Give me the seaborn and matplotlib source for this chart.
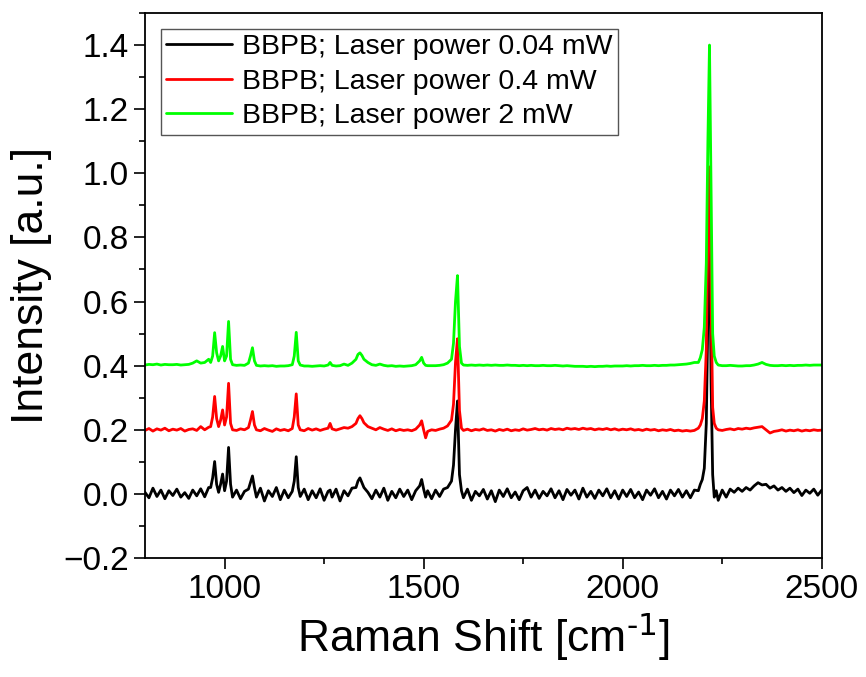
import numpy as np
import pandas as pd
import seaborn as sns
import matplotlib.pyplot as plt
from matplotlib.ticker import MultipleLocator

# Raman shift sampling (cm-1), shared by the three spectra
raman_shift = [
    800, 810, 820, 830, 840, 850, 860, 870, 880, 890, 900, 910, 920, 930, 940, 950, 960,
    965, 970, 975, 980, 985, 990, 995, 1000, 1005, 1010, 1015, 1020,
    1030, 1040, 1050, 1060,
    1065, 1070, 1075,
    1080, 1090, 1100, 1110, 1120, 1130, 1140, 1150, 1160, 1170,
    1175, 1180, 1185,
    1190, 1200, 1210, 1220, 1230, 1240, 1250, 1260, 1265, 1270, 1280, 1290, 1300, 1310, 1320, 1330,
    1335, 1340, 1345, 1350, 1360,
    1370, 1380, 1390, 1400, 1410, 1420, 1430, 1440, 1450, 1460, 1470, 1480,
    1490, 1495, 1500, 1505, 1510,
    1520, 1530, 1540, 1550, 1560, 1570,
    1575, 1580, 1585, 1590, 1595,
    1600, 1610, 1620, 1630, 1640, 1650, 1660, 1670, 1680, 1690,
    1700, 1710, 1720, 1730, 1740, 1750, 1760, 1770, 1780, 1790,
    1800, 1810, 1820, 1830, 1840, 1850, 1860, 1870, 1880, 1890,
    1900, 1910, 1920, 1930, 1940, 1950, 1960, 1970, 1980, 1990,
    2000, 2010, 2020, 2030, 2040, 2050, 2060, 2070, 2080, 2090,
    2100, 2110, 2120, 2130, 2140, 2150, 2160, 2170, 2180,
    2190, 2195, 2200, 2205, 2210, 2214, 2218, 2222, 2226, 2230, 2235, 2240,
    2250, 2260, 2270, 2280, 2290, 2300, 2310, 2320, 2330, 2340, 2350, 2360, 2370,
    2380, 2390, 2400, 2410, 2420, 2430, 2440, 2450, 2460, 2470, 2480, 2490, 2500,
]

# 0.04 mW (no offset)
intensity_004 = [
    0.005, -0.012, 0.018, -0.008, 0.012, -0.015, 0.010, -0.005, 0.015, -0.010, 0.004, -0.014, 0.012, -0.006, 0.016, -0.009, 0.020,
    0.020, 0.050, 0.101, 0.030, 0.005, 0.030, 0.062, 0.010, 0.040, 0.145, 0.030, -0.010,
    0.012, -0.015, 0.008, 0.015,
    0.035, 0.056, 0.020,
    -0.010, 0.018, -0.022, 0.010, -0.008, 0.020, -0.018, 0.012, -0.012, 0.008,
    0.040, 0.116, 0.020,
    -0.008, 0.015, -0.018, 0.010, -0.012, 0.016, -0.020, 0.008, 0.012, -0.010, 0.015, -0.022, 0.010, -0.006, 0.018, 0.020,
    0.040, 0.050, 0.035, 0.020, 0.005,
    -0.015, 0.012, -0.010, 0.018, -0.020, 0.008, -0.012, 0.015, -0.008, 0.012, -0.018, 0.010,
    0.025, 0.045, 0.015, -0.010, 0.010,
    -0.015, 0.012, -0.008, 0.015, 0.020, 0.040,
    0.090, 0.200, 0.290, 0.060, 0.010,
    -0.012, 0.015, -0.020, 0.008, -0.006, 0.014, -0.016, 0.010, -0.024, 0.012,
    -0.008, 0.016, -0.012, 0.006, -0.018, 0.010, 0.020, -0.010, 0.012, -0.014,
    0.008, -0.006, 0.016, -0.012, 0.010, -0.018, 0.014, -0.004, 0.012, -0.016,
    0.018, -0.010, 0.008, -0.014, 0.012, -0.006, 0.016, -0.012, 0.010, -0.016,
    0.012, -0.008, 0.014, -0.012, 0.006, -0.018, 0.012, -0.004, 0.016, -0.012,
    0.008, -0.016, 0.012, -0.006, 0.014, -0.010, 0.010, -0.012, 0.012,
    0.010, 0.030, 0.045, 0.080, 0.220, 0.550, 0.900, 0.350, 0.060, -0.010, 0.010, -0.020,
    0.012, -0.010, 0.015, 0.005, 0.018, 0.008, 0.020, 0.012, 0.025, 0.035, 0.028, 0.030, 0.018,
    0.025, 0.012, 0.020, 0.008, 0.018, 0.004, 0.015, -0.005, 0.012, 0.002, 0.015, -0.004, 0.012,
]

# 0.4 mW (offset +0.2)
intensity_04 = [
    0.198, 0.204, 0.196, 0.203, 0.199, 0.205, 0.197, 0.202, 0.199, 0.204, 0.196, 0.201, 0.203, 0.198, 0.210, 0.200, 0.208,
    0.210, 0.240, 0.304, 0.235, 0.210, 0.230, 0.262, 0.215, 0.240, 0.345, 0.220, 0.200,
    0.198, 0.203, 0.200, 0.207,
    0.230, 0.257, 0.215,
    0.200, 0.197, 0.204, 0.199, 0.195, 0.203, 0.198, 0.201, 0.197, 0.204,
    0.240, 0.312, 0.215,
    0.200, 0.197, 0.204, 0.199, 0.203, 0.198, 0.202, 0.205, 0.220, 0.203, 0.199, 0.203, 0.207, 0.205, 0.210, 0.220,
    0.235, 0.244, 0.235, 0.222, 0.210,
    0.205, 0.200, 0.207, 0.202, 0.198, 0.203, 0.197, 0.201, 0.198, 0.200, 0.197, 0.202,
    0.215, 0.228, 0.200, 0.175, 0.195,
    0.200, 0.198, 0.202, 0.205, 0.212, 0.230,
    0.280, 0.410, 0.484, 0.260, 0.205,
    0.198, 0.202, 0.197, 0.201, 0.199, 0.203, 0.198, 0.200, 0.196, 0.201,
    0.198, 0.202, 0.197, 0.200, 0.198, 0.203, 0.199, 0.201, 0.204, 0.200,
    0.202, 0.199, 0.204, 0.201, 0.203, 0.200, 0.205, 0.202, 0.204, 0.201,
    0.205, 0.202, 0.204, 0.200, 0.203, 0.201, 0.204, 0.200, 0.203, 0.199,
    0.202, 0.200, 0.203, 0.199, 0.201, 0.198, 0.202, 0.199, 0.201, 0.197,
    0.200, 0.198, 0.201, 0.197, 0.199, 0.196, 0.198, 0.196, 0.198,
    0.205, 0.215, 0.235, 0.290, 0.450, 0.800, 1.020, 0.600, 0.270, 0.220, 0.205, 0.200,
    0.198, 0.201, 0.203, 0.200, 0.204, 0.202, 0.205, 0.203, 0.206, 0.208, 0.210, 0.200, 0.190,
    0.195, 0.197, 0.200, 0.196, 0.199, 0.197, 0.200, 0.196, 0.199, 0.197, 0.200, 0.198, 0.199,
]

# 2 mW (offset +0.4)
intensity_2 = [
    0.402, 0.404, 0.403, 0.405, 0.402, 0.404, 0.403, 0.403, 0.404, 0.402, 0.403, 0.404, 0.408, 0.415, 0.408, 0.410, 0.420,
    0.410, 0.430, 0.503, 0.440, 0.415, 0.430, 0.460, 0.415, 0.430, 0.538, 0.420, 0.403,
    0.401, 0.402, 0.401, 0.408,
    0.430, 0.456, 0.415,
    0.401, 0.399, 0.400, 0.399, 0.400, 0.398, 0.399, 0.399, 0.400, 0.403,
    0.430, 0.504, 0.415,
    0.402, 0.399, 0.399, 0.398, 0.399, 0.400, 0.399, 0.402, 0.410, 0.401, 0.399, 0.400, 0.405, 0.401, 0.408, 0.420,
    0.435, 0.440, 0.432, 0.420, 0.410,
    0.403, 0.401, 0.405, 0.401, 0.399, 0.400, 0.398, 0.399, 0.398, 0.399, 0.400, 0.403,
    0.415, 0.426, 0.408, 0.401, 0.400,
    0.400, 0.400, 0.401, 0.403, 0.408, 0.420,
    0.470, 0.600, 0.681, 0.460, 0.408,
    0.402, 0.401, 0.402, 0.401, 0.402, 0.401, 0.402, 0.401, 0.402, 0.401,
    0.401, 0.402, 0.401, 0.401, 0.400, 0.401, 0.400, 0.401, 0.400, 0.400,
    0.401, 0.400, 0.400, 0.401, 0.400, 0.399, 0.400, 0.399, 0.398, 0.398,
    0.398, 0.397, 0.398, 0.397, 0.398, 0.398, 0.399, 0.398, 0.399, 0.399,
    0.399, 0.400, 0.399, 0.400, 0.400, 0.401, 0.400, 0.400, 0.401, 0.400,
    0.401, 0.401, 0.402, 0.402, 0.403, 0.404, 0.405, 0.407, 0.410,
    0.410, 0.425, 0.450, 0.520, 0.720, 1.100, 1.400, 0.950, 0.500, 0.430, 0.410, 0.402,
    0.400, 0.400, 0.401, 0.400, 0.399, 0.399, 0.400, 0.400, 0.402, 0.405, 0.410, 0.404, 0.401,
    0.400, 0.400, 0.401, 0.400, 0.401, 0.400, 0.401, 0.401, 0.402, 0.401, 0.402, 0.402, 0.402,
]

labels = ["BBPB; Laser power 0.04 mW", "BBPB; Laser power 0.4 mW", "BBPB; Laser power 2 mW"]
colors = ["#000000", "#ff0000", "#00ff00"]

df = pd.concat([
    pd.DataFrame({"shift": raman_shift, "intensity": y, "sample": lab})
    for y, lab in zip([intensity_004, intensity_04, intensity_2], labels)
])

sns.set_style("ticks")
plt.rcParams["font.family"] = ["Liberation Sans", "DejaVu Sans"]
plt.rcParams["text.color"] = "black"
plt.rcParams["axes.labelcolor"] = "black"
plt.rcParams["xtick.color"] = "black"
plt.rcParams["ytick.color"] = "black"

fig = plt.figure(figsize=(8.66, 6.77), dpi=100)
ax = fig.add_axes([0.1674, 0.1757, 0.7815, 0.8051])

sns.lineplot(data=df, x="shift", y="intensity", hue="sample", hue_order=labels,
             palette=colors, estimator=None, sort=False, linewidth=2, ax=ax)

ax.set_xlim(800, 2500)
ax.set_ylim(-0.2, 1.5)
ax.xaxis.set_major_locator(MultipleLocator(500))
ax.xaxis.set_minor_locator(MultipleLocator(250))
ax.yaxis.set_minor_locator(MultipleLocator(0.1))
ax.set_yticks(np.arange(-0.2, 1.41, 0.2))
ax.tick_params(which="major", direction="out", length=8, width=1.2, labelsize=24,
               color="black", labelcolor="black")
ax.tick_params(which="minor", direction="out", length=4, width=1.2, color="black")
for sp in ax.spines.values():
    sp.set_visible(True)
    sp.set_linewidth(1.3)
    sp.set_color("black")

ax.set_xlabel("Raman Shift [cm$^{\\text{-1}}$]", fontsize=32, color="black")
ax.set_ylabel("Intensity [a.u.]", fontsize=32, color="black", labelpad=8)

leg = ax.legend(loc="upper left", fontsize=20.5, frameon=True, fancybox=False,
                edgecolor="#555555", framealpha=1, handlelength=2.3,
                borderpad=0.2, labelspacing=0.3, handletextpad=0.35,
                borderaxespad=0.55)
leg.get_frame().set_linewidth(1.0)

fig.savefig("out.png", dpi=100)
